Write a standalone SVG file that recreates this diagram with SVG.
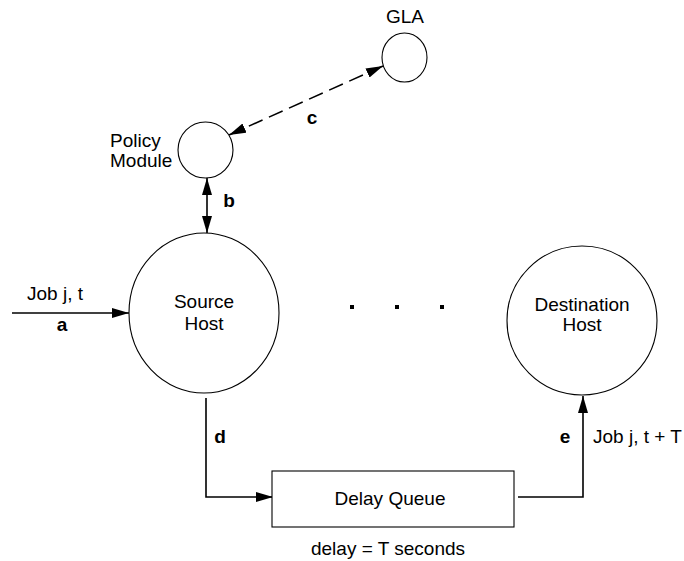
<svg xmlns="http://www.w3.org/2000/svg" width="684" height="561" viewBox="0 0 684 561">
<defs>
<marker id="ah" markerUnits="userSpaceOnUse" markerWidth="18" markerHeight="10" refX="17" refY="5" orient="auto-start-reverse" viewBox="0 0 18 10">
<path d="M0,0 L17,5 L0,10 z" fill="#000" stroke="none"/>
</marker>
<style>
.node{fill:#fff;stroke:#000;stroke-width:1.1}
.t{font-family:"Liberation Sans",Arial,sans-serif;font-size:19px;fill:#000}
.b{font-family:"Liberation Sans",Arial,sans-serif;font-size:19px;font-weight:bold;fill:#000}
.c{text-anchor:middle}
.ln{fill:none;stroke:#000;stroke-width:1.6}
</style>
</defs>
<rect width="684" height="561" fill="#fff"/>
<g id="connectors">
<path class="ln" d="M12,313 L129,313" marker-end="url(#ah)"/>
<path class="ln" d="M207,178 L207,233" marker-start="url(#ah)" marker-end="url(#ah)"/>
<path class="ln" d="M383,66 L229,135" stroke-dasharray="15,7" marker-start="url(#ah)" marker-end="url(#ah)"/>
<path class="ln" d="M206,398 L206,497 L273,497" marker-end="url(#ah)"/>
<path class="ln" d="M518,497 L583,497 L583,396" marker-end="url(#ah)"/>
<text class="b" x="62" y="331" text-anchor="middle">a</text>
<text class="b" x="229" y="207" text-anchor="middle">b</text>
<text class="b" x="312" y="124" text-anchor="middle">c</text>
<text class="b" x="220" y="443" text-anchor="middle">d</text>
<text class="b" x="565" y="443" text-anchor="middle">e</text>
<text class="t" x="27" y="300">Job j, t</text>
<text class="t" x="593" y="443">Job j, t + T</text>
</g>
<g id="gla">
<ellipse class="node" cx="404.5" cy="57.5" rx="22.5" ry="24.5"/>
<text class="t c" x="405" y="23">GLA</text>
</g>
<g id="policy">
<ellipse class="node" cx="205.5" cy="150" rx="27.5" ry="28"/>
<text class="t" x="110" y="147">Policy</text>
<text class="t" x="110" y="167">Module</text>
</g>
<g id="source">
<ellipse class="node" cx="204" cy="313" rx="75" ry="80"/>
<text class="t c" x="204" y="308">Source</text>
<text class="t c" x="204" y="330">Host</text>
</g>
<g id="dots">
<rect x="350" y="305" width="4" height="4" fill="#000"/>
<rect x="395" y="305" width="4" height="4" fill="#000"/>
<rect x="440" y="305" width="4" height="4" fill="#000"/>
</g>
<g id="destination">
<ellipse class="node" cx="582" cy="320.5" rx="75" ry="74.5"/>
<text class="t c" x="582" y="311">Destination</text>
<text class="t c" x="582" y="331">Host</text>
</g>
<g id="queue">
<rect class="node" x="272" y="471" width="242" height="56"/>
<text class="t c" x="390" y="505">Delay Queue</text>
<text class="t c" x="388" y="555">delay = T seconds</text>
</g>
</svg>
